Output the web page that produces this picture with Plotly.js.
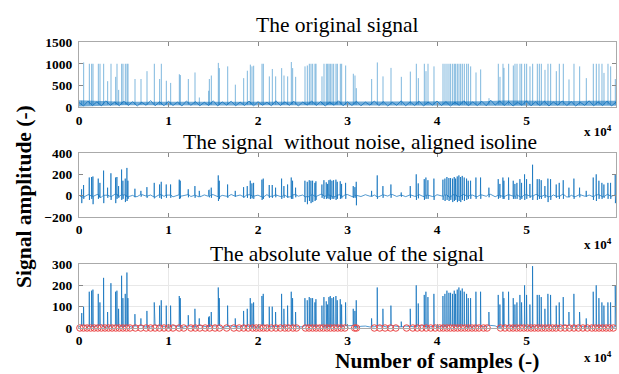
<!DOCTYPE html>
<html><head><meta charset="utf-8">
<script src="https://cdn.plot.ly/plotly-3.0.1.min.js"></script>
<style>html,body{margin:0;padding:0;background:#fff}#chart{width:619px;height:374px}</style>
</head><body><div id="chart"></div>
<script>
// ---- data ----
const spikePos = [300,521,1155,1415,1564,2160,2346,2756,3203,3575,4097,4246,4432,4767,4916,5177,5363,5475,6257,6927,7598,8417,9013,9199,9758,10243,11211,11323,12217,12961,13446,14489,14564,14787,15569,15681,16613,17469,18400,18810,19145,19329,19516,20447,20596,21266,21601,21974,22645,22905,23315,23724,23873,24209,25251,25512,25735,25922,26108,26368,26480,27150,27374,27635,27784,27933,28082,28268,28454,28715,28864,29199,29348,29795,30651,30837,30986,32700,33333,33966,34860,36014,37020,37690,37914,38584,38770,38994,39664,40670,40893,41117,41340,41527,41750,41936,42085,42271,42457,42644,42830,43053,43314,43500,43761,44357,44878,45809,46851,47038,47373,47485,48006,48528,48714,48938,49273,49459,49794,50018,50390,50688,51209,51433,51656,52066,52401,52699,53332,53667,54114,54748,55306,55940,56684,57466,57801,58099,58434,58658,59105,59403,59924];
const origPeak = [150,1030,1000,1000,1000,1000,1000,1000,600,1000,700,1000,400,1000,1000,1000,1000,1000,650,650,830,1000,650,1000,610,560,760,740,650,800,225,380,650,730,1020,900,940,520,670,840,980,940,955,1000,1000,710,880,710,900,730,710,1040,900,700,940,960,1000,1000,1000,1000,1000,710,1000,1000,1000,1000,1000,1000,1000,1000,1000,1000,1000,960,770,730,440,650,1030,710,905,700,820,1000,670,1000,830,1000,940,1000,1000,1000,1000,1000,1000,1000,1000,1000,1000,1000,1000,1000,1000,1000,940,800,870,210,1000,700,1000,905,1000,960,1000,1000,1000,1000,1000,1000,940,1000,1000,1000,1000,860,1000,1000,830,1000,1000,640,1000,940,670,1000,1000,1000,1000,790,1000,940,650];
const cleanPeak = [60,100,170,175,180,160,120,235,75,210,170,175,90,245,140,160,260,140,65,45,80,120,105,130,105,105,150,140,60,90,45,50,55,75,190,140,105,45,80,90,140,115,120,150,160,100,100,75,160,90,105,170,140,75,140,130,145,140,140,120,135,105,145,125,110,145,150,140,145,150,130,135,110,120,90,80,130,45,190,90,105,30,90,200,115,155,170,145,160,150,160,175,165,165,160,175,160,180,190,175,185,170,160,140,140,170,170,75,155,110,170,140,170,140,110,120,155,120,200,155,110,290,155,155,145,90,160,155,105,120,145,75,160,75,45,170,200,140,120,105,120,120,200];
const cleanTrough = [-70,-30,-40,-30,-80,-30,-20,-70,-20,-40,-70,-30,-20,-40,-30,-60,-50,-30,-15,-10,-20,-25,-20,-30,-20,-20,-30,-25,-15,-20,-10,-15,-15,-20,-50,-30,-20,-10,-20,-20,-30,-25,-30,-40,-30,-20,-20,-15,-30,-20,-20,-30,-30,-15,-60,-80,-50,-70,-60,-50,-40,-20,-30,-30,-25,-30,-40,-30,-30,-40,-30,-30,-25,-30,-20,-20,-90,-10,-30,-20,-20,-10,-20,-40,-25,-40,-30,-30,-40,-40,-50,-40,-50,-40,-60,-50,-40,-60,-50,-60,-40,-50,-40,-30,-30,-30,-30,-15,-30,-20,-30,-30,-40,-30,-30,-30,-40,-30,-40,-30,-20,-40,-40,-30,-30,-20,-60,-40,-20,-30,-30,-15,-30,-15,-10,-40,-50,-30,-30,-20,-30,-30,-70];
// envelope of the dense baseline band of the original signal, every 2500 samples
const bandX = [0,2500,5000,7500,10000,12500,15000,17500,20000,22500,25000,27500,30000,32500,35000,37500,40000,42500,45000,47500,50000,52500,55000,57500,60000];
const bandHigh = [160,140,130,130,135,130,125,125,130,130,135,130,130,135,130,125,130,135,140,155,150,140,145,150,150];
const bandLow = [20,40,45,45,40,45,45,40,45,45,40,45,45,40,45,45,40,45,45,50,45,45,40,40,35];
// baseline noise of the original signal, one value every 500 samples
const noiseOrig = [110,30,140,40,125,35,150,45,120,35,145,40,130,30,115,45,155,35,125,35,140,40,120,30,145,45,130,35,115,40,150,30,125,50,140,35,120,40,145,30,130,45,115,35,150,40,125,45,140,30,120,50,145,40,130,30,115,45,150,35,125,40,140,35,120,50,145,40,130,30,115,45,150,35,125,40,140,30,120,50,145,40,130,30,115,45,150,35,125,40,140,35,165,50,145,40,130,30,115,45,150,35,125,40,140,30,120,50,145,40,130,30,115,45,150,35,125,40,140,30,120];
// baseline noise of the cleaned signal, one value every 500 samples
const noiseClean = [5,-12,8,-6,10,-15,4,-8,12,-5,7,-10,3,-9,11,-4,6,-13,9,-7,5,-11,8,-3,10,-8,4,-12,7,-6,9,-10,3,-7,11,-5,6,-9,8,-4,5,-12,10,-6,7,-8,4,-11,9,-5,6,-10,8,-7,12,-4,5,-9,7,-6,10,-12,3,-8,9,-5,6,-10,8,-4,11,-7,5,-9,7,-6,10,-11,4,-8,9,-5,6,-12,8,-7,10,-4,5,-9,7,-6,12,-10,3,-8,9,-5,6,-11,8,-4,10,-7,5,-9,7,-6,11,-12,4,-8,9,-5,6,-10,8,-7,10,-4,5,-9,7];
// positions of detected peaks (red circles)
const peakMarks = [100,500,900,1300,1700,2100,2500,2900,3300,3700,4100,4500,4900,5300,5700,6300,6900,7500,8000,8500,9000,9500,10000,10500,11200,11700,12500,13000,13500,14100,14600,15200,15700,16500,17300,17900,18400,18900,19400,19800,20200,20600,21000,21500,22000,22500,23000,23400,23900,24300,25300,25700,26100,26500,26900,27300,27700,28100,28500,28900,29300,29700,30800,31000,33000,33600,34200,34800,35400,36600,37300,37800,38300,38800,39300,39800,40300,40700,41100,41500,41900,42300,42700,43100,43500,43900,44300,44700,45200,45600,47100,47600,48100,48500,48900,49300,49700,50100,50500,50900,51300,51700,52100,52500,52900,53300,53800,54300,54800,55300,55800,56300,56800,57300,57700,58100,58500,58900,59300,59700];
const xTickVals = [0,10000,20000,30000,40000,50000,60000];
const xTickText = ['0','1','2','3','4','5','6'];
const noiseStep = 500;

// ---- build traces ----
function noiseAt(noise, pos){ return noise[Math.min(noise.length-1, Math.round(pos/noiseStep))]; }

const b1x = noiseOrig.map((v,i)=>i*noiseStep);
const s1x = [], s1y = [];
spikePos.forEach((p,i)=>{ s1x.push(p,p,null); s1y.push(60, origPeak[i], null); });

let pts = noiseClean.map((v,i)=>({x:i*noiseStep, y:v}));
spikePos.forEach((p,i)=>{
  const nz = noiseAt(noiseClean,p);
  pts.push({x:p-30,y:nz},{x:p-10,y:cleanPeak[i]},{x:p+10,y:cleanTrough[i]},{x:p+30,y:nz});
});
pts.sort((a,b)=>a.x-b.x);
const s2x = pts.map(d=>d.x), s2y = pts.map(d=>d.y);
const s3y = s2y.map(v=>Math.abs(v));

const dark = 'rgb(0,105,185)';
const light = 'rgba(0,114,189,0.5)';
const serif = '"Liberation Serif", "Times New Roman", Times, serif';

const traces = [
  {x:s1x, y:s1y, xaxis:'x', yaxis:'y', mode:'lines', line:{color:light,width:1}, hoverinfo:'skip'},
  {x:bandX, y:bandLow, xaxis:'x', yaxis:'y', mode:'lines', line:{width:0, color:'rgba(0,0,0,0)'}, hoverinfo:'skip'},
  {x:bandX, y:bandHigh, xaxis:'x', yaxis:'y', mode:'lines', fill:'tonexty', fillcolor:'rgba(0,105,185,0.55)', line:{width:0, color:'rgba(0,0,0,0)'}, hoverinfo:'skip'},
  {x:b1x, y:noiseOrig, xaxis:'x', yaxis:'y', mode:'lines', line:{color:dark,width:0.7}, hoverinfo:'skip'},
  {x:s2x, y:s2y, xaxis:'x2', yaxis:'y2', mode:'lines', line:{color:'rgba(0,105,185,0.75)',width:0.9}, hoverinfo:'skip'},
  {x:s2x, y:s3y, xaxis:'x3', yaxis:'y3', mode:'lines', line:{color:'rgba(0,105,185,0.75)',width:0.9}, hoverinfo:'skip'},
  {x:peakMarks, y:peakMarks.map(()=>0), xaxis:'x3', yaxis:'y3', mode:'markers', cliponaxis:false,
   marker:{symbol:'circle-open', size:6.5, color:'rgb(235,70,70)', line:{width:1, color:'rgb(235,70,70)'}}, hoverinfo:'skip'}
];

const tickFont = {family:serif, size:13.5, color:'#000', weight:700};
function xax(anchor, grid){
  return {anchor:anchor, domain:[0,1], range:[0,60000], tickmode:'array', tickvals:xTickVals, ticktext:xTickText,
    ticks:'inside', ticklen:4, tickcolor:'#888', showline:true, linecolor:'#aaa', linewidth:1, mirror:'ticks',
    showgrid:grid, gridcolor:'#e8e8e8', zeroline:false, tickfont:tickFont, fixedrange:true};
}
function yax(anchor, dom, range, dtick, grid){
  return {anchor:anchor, domain:dom, range:range, dtick:dtick, tick0:0,
    ticks:'inside', ticklen:4, tickcolor:'#888', showline:true, linecolor:'#aaa', linewidth:1, mirror:'ticks',
    showgrid:grid, gridcolor:'#e8e8e8', zeroline:false, tickfont:tickFont, ticklabelstandoff:3, fixedrange:true};
}
const H = 286, B = 328;
function py(pix){ return (B - pix)/H; }
function px(pix){ return (pix - 79)/537; }

const ann = (text,x,y,size,bold,extra)=>Object.assign({text:text, xref:'paper', yref:'paper', x:x, y:y,
  xanchor:'center', yanchor:'middle', showarrow:false,
  font:{family:serif, size:size, color:'#000', weight: bold?700:400}}, extra||{});

const layout = {
  width:619, height:374, margin:{l:79, r:3, t:42, b:46}, showlegend:false,
  paper_bgcolor:'#fff', plot_bgcolor:'#fff',
  xaxis: xax('y', false), xaxis2: xax('y2', false), xaxis3: xax('y3', true),
  yaxis: yax('x', [py(107.3),1], [0,1500], 500, false),
  yaxis2: yax('x2', [py(217),py(153)], [-200,400], 200, false),
  yaxis3: yax('x3', [0,py(264)], [0,300], 100, true),
  annotations: [
    ann('The original signal', px(337), py(25), 21.5, false),
    ann('The signal  without noise, aligned isoline', px(360), py(142), 21.5, false),
    ann('The absolute value of the signal', px(347), py(254), 21.5, false),
    ann('x 10<sup>4</sup>', px(614), py(131), 13, true, {xanchor:'right'}),
    ann('x 10<sup>4</sup>', px(614), py(244), 13, true, {xanchor:'right'}),
    ann('x 10<sup>4</sup>', px(614), py(357), 13, true, {xanchor:'right'}),
    ann('Number of samples (-)', px(437), py(361), 21.5, true),
    ann('Signal amplitude (-)', px(24), py(197), 21.5, true, {textangle:-90})
  ]
};
Plotly.newPlot('chart', traces, layout, {displayModeBar:false, staticPlot:true});
</script></body></html>
